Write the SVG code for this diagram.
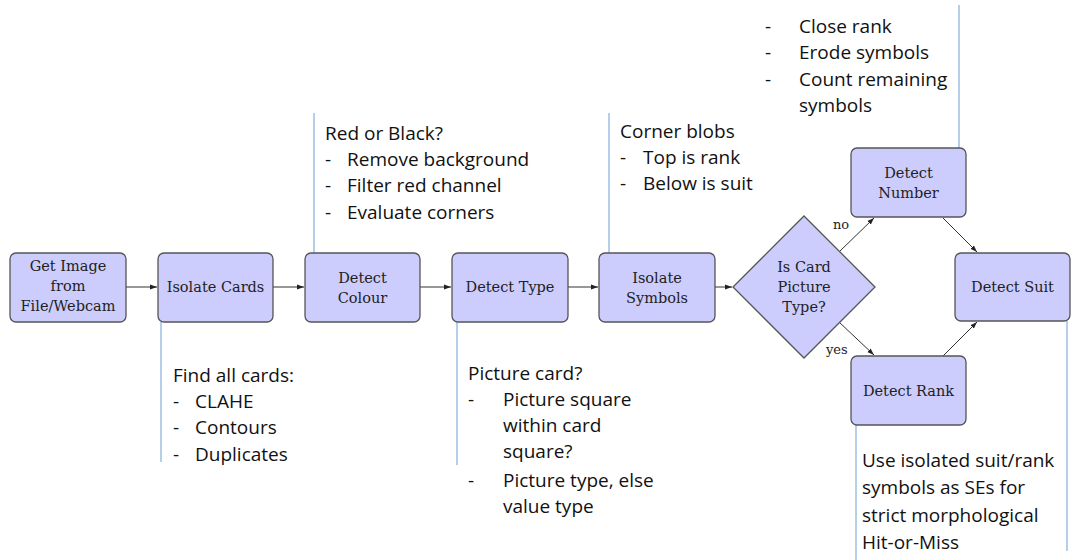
<svg xmlns="http://www.w3.org/2000/svg" width="1081" height="560" viewBox="0 0 1081 560">
<style>
.box{fill:#ccccfd;stroke:#555;stroke-width:1.3}
.lbl{font-family:"DejaVu Serif","Liberation Serif",serif;font-size:14.5px;fill:#222;text-anchor:middle}
.note{font-family:"Open Sans","Noto Sans",sans-serif;font-size:19px;fill:#111}
.call{stroke:#9dbfe3;stroke-width:1.5;fill:none}
.edge{stroke:#333;stroke-width:1;fill:none;marker-end:url(#ah)}
.el{font-family:"DejaVu Serif","Liberation Serif",serif;font-size:13px;fill:#222}
</style>
<defs>
<marker id="ah" markerWidth="8" markerHeight="6" refX="7" refY="3" orient="auto" markerUnits="userSpaceOnUse">
<path d="M0,0.5 L7,3 L0,5.5 Z" fill="#222"/>
</marker>
</defs>
<rect width="1081" height="560" fill="#fff"/>
<g id="callouts">
<line class="call" x1="161" y1="322" x2="161" y2="462"/>
<line class="call" x1="314" y1="113" x2="314" y2="253"/>
<line class="call" x1="457" y1="322" x2="457" y2="465"/>
<line class="call" x1="609" y1="113" x2="609" y2="253"/>
<line class="call" x1="959" y1="5" x2="959" y2="148"/>
<line class="call" x1="856" y1="425" x2="856" y2="560"/>
<line class="call" x1="1067" y1="321" x2="1067" y2="551"/>
</g>
<g id="connectors">
<line class="edge" x1="126" y1="287" x2="157" y2="287"/>
<line class="edge" x1="273" y1="287" x2="304" y2="287"/>
<line class="edge" x1="420" y1="287" x2="451" y2="287"/>
<line class="edge" x1="568" y1="287" x2="598" y2="287"/>
<line class="edge" x1="715" y1="287" x2="732" y2="287"/>
<line class="edge" x1="839" y1="252" x2="874" y2="218"/>
<line class="edge" x1="839" y1="322" x2="874" y2="355"/>
<line class="edge" x1="943" y1="218" x2="977" y2="252"/>
<line class="edge" x1="943" y1="356" x2="977" y2="322"/>
<text class="el" x="833" y="229">no</text>
<text class="el" x="826" y="354">yes</text>
</g>
<g id="n1"><rect class="box" x="10" y="253" width="116" height="69" rx="6"/>
<text class="lbl" x="68" y="271">Get Image</text><text class="lbl" x="68" y="291">from</text><text class="lbl" x="68" y="311">File/Webcam</text></g>
<g id="n2"><rect class="box" x="158" y="253" width="115" height="69" rx="6"/>
<text class="lbl" x="215.5" y="292">Isolate Cards</text></g>
<g id="n3"><rect class="box" x="305" y="253" width="115" height="69" rx="6"/>
<text class="lbl" x="362.5" y="283">Detect</text><text class="lbl" x="362.5" y="303">Colour</text></g>
<g id="n4"><rect class="box" x="452" y="253" width="116" height="69" rx="6"/>
<text class="lbl" x="510" y="292">Detect Type</text></g>
<g id="n5"><rect class="box" x="599" y="253" width="116" height="69" rx="6"/>
<text class="lbl" x="657" y="283">Isolate</text><text class="lbl" x="657" y="303">Symbols</text></g>
<g id="n6"><path class="box" d="M804,216 L875,287 L804,358 L733,287 Z"/>
<text class="lbl" x="804" y="272">Is Card</text><text class="lbl" x="804" y="292">Picture</text><text class="lbl" x="804" y="312">Type?</text></g>
<g id="n7"><rect class="box" x="851" y="148" width="115" height="69" rx="6"/>
<text class="lbl" x="908.5" y="178">Detect</text><text class="lbl" x="908.5" y="198">Number</text></g>
<g id="n8"><rect class="box" x="955" y="253" width="115" height="68" rx="6"/>
<text class="lbl" x="1012.5" y="292">Detect Suit</text></g>
<g id="n9"><rect class="box" x="851" y="356" width="115" height="69" rx="6"/>
<text class="lbl" x="908.5" y="396">Detect Rank</text></g>
<g id="notes">
<text class="note" x="325" y="140">Red or Black?</text>
<text class="note" x="325" y="166">-</text><text class="note" x="347" y="166">Remove background</text>
<text class="note" x="325" y="192">-</text><text class="note" x="347" y="192">Filter red channel</text>
<text class="note" x="325" y="219">-</text><text class="note" x="347" y="219">Evaluate corners</text>

<text class="note" x="620" y="138">Corner blobs</text>
<text class="note" x="620" y="164">-</text><text class="note" x="643" y="164">Top is rank</text>
<text class="note" x="620" y="190">-</text><text class="note" x="643" y="190">Below is suit</text>

<text class="note" x="765" y="33">-</text><text class="note" x="799" y="33">Close rank</text>
<text class="note" x="765" y="59">-</text><text class="note" x="799" y="59">Erode symbols</text>
<text class="note" x="765" y="86">-</text><text class="note" x="799" y="86">Count remaining</text>
<text class="note" x="799" y="112">symbols</text>

<text class="note" x="173" y="382">Find all cards:</text>
<text class="note" x="173" y="408">-</text><text class="note" x="195" y="408">CLAHE</text>
<text class="note" x="173" y="434">-</text><text class="note" x="195" y="434">Contours</text>
<text class="note" x="173" y="461">-</text><text class="note" x="195" y="461">Duplicates</text>

<text class="note" x="468" y="380">Picture card?</text>
<text class="note" x="468" y="406">-</text><text class="note" x="503" y="406">Picture square</text>
<text class="note" x="503" y="432">within card</text>
<text class="note" x="503" y="458">square?</text>
<text class="note" x="468" y="487">-</text><text class="note" x="503" y="487">Picture type, else</text>
<text class="note" x="503" y="513">value type</text>

<text class="note" x="862" y="467">Use isolated suit/rank</text>
<text class="note" x="862" y="494">symbols as SEs for</text>
<text class="note" x="862" y="522">strict morphological</text>
<text class="note" x="862" y="549">Hit-or-Miss</text>
</g>
</svg>
